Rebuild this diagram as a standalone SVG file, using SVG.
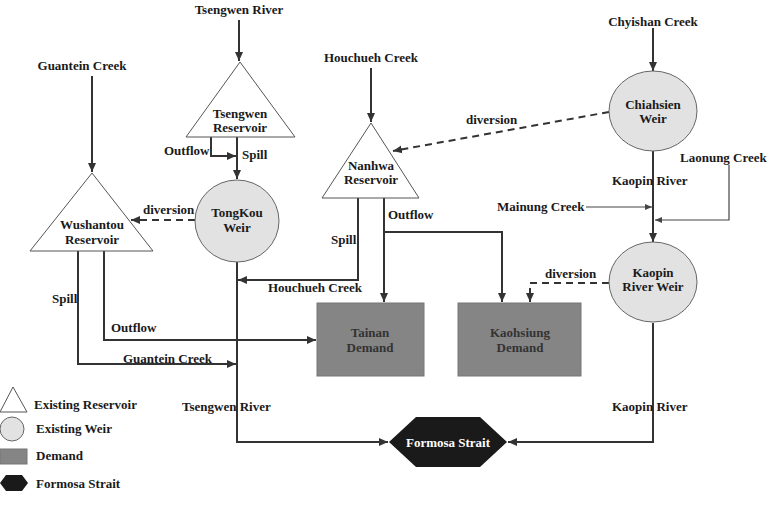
<svg xmlns="http://www.w3.org/2000/svg" width="769" height="509" viewBox="0 0 769 509">
<style>
text{font-family:"Liberation Serif","Times New Roman",serif;font-weight:bold;font-size:13px;fill:#1a1a1a}
.c{text-anchor:middle}
.res{fill:#ffffff;stroke:#555;stroke-width:1}
.weir{fill:#e2e2e2;stroke:#666;stroke-width:1}
.dem{fill:#858585;stroke:#777;stroke-width:1}
.sea{fill:#1a1a1a}
.ln{fill:none;stroke:#333;stroke-width:2}
.th{fill:none;stroke:#444;stroke-width:1.2}
.da{stroke-dasharray:7,5}
.wt{fill:#ffffff}
.dt{fill:#333333}
</style>
<defs>
<marker id="ar" markerUnits="userSpaceOnUse" markerWidth="10" markerHeight="10" refX="9" refY="5" orient="auto">
<path d="M0,1 L9,5 L0,9 Z" fill="#333"/>
</marker>
<marker id="as" markerUnits="userSpaceOnUse" markerWidth="8" markerHeight="8" refX="7" refY="4" orient="auto">
<path d="M0,1 L7,4 L0,7 Z" fill="#444"/>
</marker>
</defs>
<rect width="769" height="509" fill="#ffffff"/>

<g id="connectors">
<path class="ln" d="M239,20 V61" marker-end="url(#ar)"/>
<path class="ln" d="M92,76 V172" marker-end="url(#ar)"/>
<path class="ln" d="M371,68 V122" marker-end="url(#ar)"/>
<path class="ln" d="M653,28 V71" marker-end="url(#ar)"/>
<path class="ln" d="M211,137 V156 H236" marker-end="url(#ar)"/>
<path class="ln" d="M237,137 V179" marker-end="url(#ar)"/>
<path class="ln da" d="M195,220 H131" marker-end="url(#ar)"/>
<path class="ln" d="M78,251 V364 H236" marker-end="url(#ar)"/>
<path class="ln" d="M104,251 V340 H316" marker-end="url(#ar)"/>
<path class="ln" d="M237,262 V442 H388" marker-end="url(#ar)"/>
<path class="ln" d="M358,198 V280 H238" marker-end="url(#ar)"/>
<path class="ln" d="M384,198 V302" marker-end="url(#ar)"/>
<path class="ln" d="M384,232 H502 V302" marker-end="url(#ar)"/>
<path class="ln da" d="M609,112 L393,151" marker-end="url(#ar)"/>
<path class="ln" d="M653,151 V242" marker-end="url(#ar)"/>
<path class="th" d="M586,207 H652" marker-end="url(#as)"/>
<path class="th" d="M729,165 V220 H655" marker-end="url(#as)"/>
<path class="ln da" d="M609,283 H530 V302" marker-end="url(#ar)"/>
<path class="ln" d="M653,323 V442 H508" marker-end="url(#ar)"/>
</g>

<g id="labels">
<text class="c" x="239" y="14">Tsengwen River</text>
<text class="c" x="82" y="70">Guantein Creek</text>
<text class="c" x="371" y="62">Houchueh Creek</text>
<text class="c" x="653" y="26">Chyishan Creek</text>
<text x="164" y="155">Outflow</text>
<text x="242" y="159">Spill</text>
<text x="143" y="214">diversion</text>
<text x="52" y="303">Spill</text>
<text x="111" y="332">Outflow</text>
<text x="123" y="363">Guantein Creek</text>
<text x="182" y="411">Tsengwen River</text>
<text x="268" y="292">Houchueh Creek</text>
<text x="331" y="244">Spill</text>
<text x="388" y="219">Outflow</text>
<text x="466" y="124">diversion</text>
<text x="680" y="162">Laonung Creek</text>
<text x="612" y="185">Kaopin River</text>
<text x="497" y="211">Mainung Creek</text>
<text x="545" y="278">diversion</text>
<text x="612" y="411">Kaopin River</text>
</g>

<g id="tsengwen-reservoir">
<polygon class="res" points="240,62 186,137 295,137"/>
<text class="c" x="240" y="118">Tsengwen</text>
<text class="c" x="240" y="132">Reservoir</text>
</g>
<g id="wushantou-reservoir">
<polygon class="res" points="92,173 30,251 153,251"/>
<text class="c" x="92" y="229">Wushantou</text>
<text class="c" x="92" y="244">Reservoir</text>
</g>
<g id="nanhwa-reservoir">
<polygon class="res" points="371,123 322,198 419,198"/>
<text class="c" x="371" y="170">Nanhwa</text>
<text class="c" x="371" y="184">Reservoir</text>
</g>
<g id="tongkou-weir">
<ellipse class="weir" cx="237" cy="221" rx="42" ry="41"/>
<text class="c" x="237" y="217">TongKou</text>
<text class="c" x="237" y="232">Weir</text>
</g>
<g id="chiahsien-weir">
<ellipse class="weir" cx="653" cy="111" rx="44" ry="40"/>
<text class="c" x="653" y="109">Chiahsien</text>
<text class="c" x="653" y="123">Weir</text>
</g>
<g id="kaopin-weir">
<ellipse class="weir" cx="653" cy="282" rx="44" ry="40"/>
<text class="c" x="653" y="277">Kaopin</text>
<text class="c" x="653" y="291">River Weir</text>
</g>
<g id="tainan-demand">
<rect class="dem" x="317" y="303" width="107" height="73"/>
<text class="c dt" x="370" y="337">Tainan</text>
<text class="c dt" x="370" y="352">Demand</text>
</g>
<g id="kaohsiung-demand">
<rect class="dem" x="458" y="303" width="123" height="73"/>
<text class="c dt" x="520" y="337">Kaohsiung</text>
<text class="c dt" x="520" y="352">Demand</text>
</g>
<g id="formosa-strait">
<polygon class="sea" points="389,442 416,417 480,417 507,442 480,467 416,467"/>
<text class="c wt" x="448" y="447">Formosa Strait</text>
</g>

<g id="legend">
<polygon class="res" points="13,387 0,412 27,412"/>
<text x="34" y="409">Existing Reservoir</text>
<ellipse class="weir" cx="12" cy="429" rx="12" ry="12"/>
<text x="36" y="433">Existing Weir</text>
<rect class="dem" x="0" y="449" width="27" height="15"/>
<text x="36" y="460">Demand</text>
<polygon class="sea" points="0,483 6,475 22,475 28,483 22,491 6,491"/>
<text x="36" y="488">Formosa Strait</text>
</g>
</svg>
